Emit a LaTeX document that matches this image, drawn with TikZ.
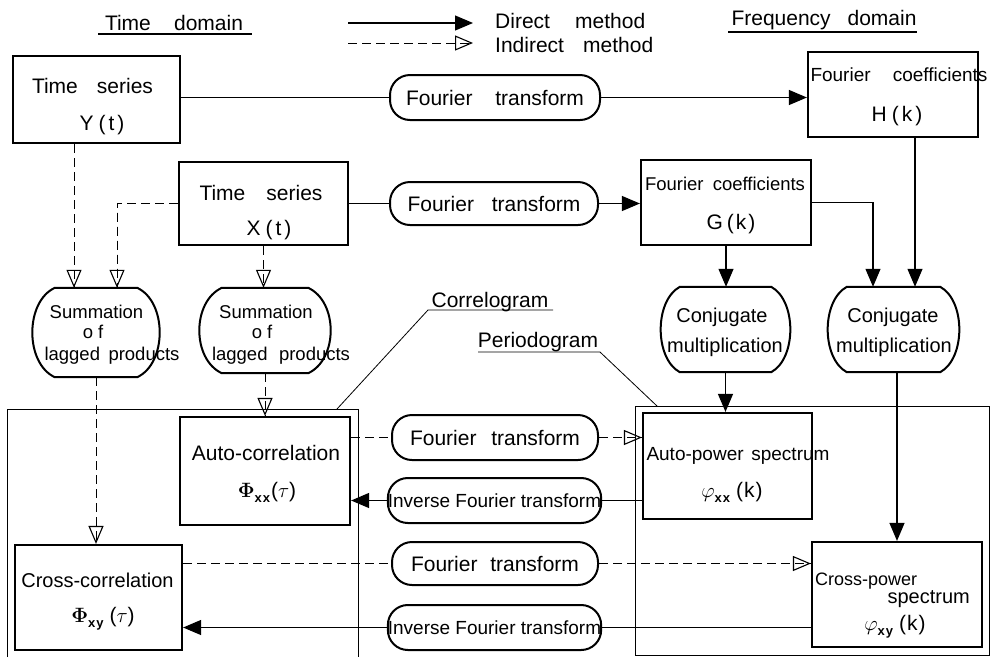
\documentclass[tikz,border=0pt]{standalone}
\usepackage[no-math]{fontspec}
\setmainfont{Liberation Sans}
\usetikzlibrary{arrows.meta,calc}
\newcommand\spreadto[2]{\makebox[#1pt][s]{#2}}
\newcommand\subs[1]{\raisebox{-5pt}{\fontsize{13}{13}\selectfont\bfseries #1}}
\newcommand\barrel[2]{\draw[barline] ($(#1.north west)+(#2,0)$) -- ($(#1.north east)+(-#2,0)$)
  .. controls ($(#1.north east)+(#2/2,14)$) and ($(#1.south east)+(#2/2,-14)$) .. ($(#1.south east)+(-#2,0)$)
  -- ($(#1.south west)+(#2,0)$)
  .. controls ($(#1.south west)+(-#2/2,-14)$) and ($(#1.north west)+(-#2/2,14)$) .. cycle;}
\begin{document}
\begin{tikzpicture}[x=1pt,y=-1pt,
  bx/.style={draw, line width=2.2pt, inner sep=0pt},
  pill/.style={draw, line width=2pt, rounded corners=20pt, inner sep=0pt, minimum width=208pt, minimum height=44pt, font=\fontsize{21}{24}\selectfont},
  barrelbox/.style={inner sep=0pt},
  barline/.style={line width=2pt},
  txt/.style={anchor=base, inner sep=0pt, font=\fontsize{21}{24}\selectfont},
  ln/.style={line width=1.2pt},
  dir/.style={line width=1.2pt, -{Triangle[length=18pt,width=15pt]}},
  dl/.style={line width=1pt, dash pattern=on 9pt off 5pt},
  ind/.style={dl, postaction={draw, -{Triangle[open,length=18pt,width=15pt,line width=1.1pt]}}},
  thin/.style={line width=0.8pt}]
\useasboundingbox (0,0) rectangle (993,657);

% ---------- legend and headings
\coordinate (l1a) at (348,23); \coordinate (l1b) at (473,23);
\coordinate (l2a) at (348,43); \coordinate (l2b) at (473,43);
\draw[dir] (l1a) -- (l1b);
\draw[ind] (l2a) -- (l2b);
\node[txt, anchor=base west] (ldir) at (495,28) {\spreadto{150}{Direct method}};
\node[txt, anchor=base west] (lind) at (495,52) {\spreadto{158}{Indirect method}};
\node[txt] (tdom) at (174,30) {\spreadto{138}{Time domain}};
\coordinate (u1a) at (98,34); \coordinate (u1b) at (252,34);
\draw[ln] (u1a) -- (u1b);
\node[txt] (fdom) at (824,25) {\spreadto{185}{Frequency domain}};
\coordinate (u2a) at (728,32); \coordinate (u2b) at (917,32);
\draw[ln] (u2a) -- (u2b);

% ---------- frames
\coordinate (fa) at (7,657); \coordinate (fb) at (7,409); \coordinate (fc) at (358,409); \coordinate (fd) at (358,657);
\draw[thin] (fa) -- (fb) -- (fc) -- (fd);
\coordinate (ga1) at (635,406); \coordinate (ga2) at (989,655);
\draw[thin] (ga1) rectangle (ga2);

% ---------- boxes
\node[bx, minimum width=167pt, minimum height=87pt] (Y) at (96.5,99.5) {};
\node[txt] (Yt1) at (92.5,93) {\spreadto{121}{Time series}};
\node[txt] (Yt2) at (102,130) {Y\kern5pt(\kern3pt t\kern3pt)};

\node[bx, minimum width=169pt, minimum height=83pt] (X) at (263.5,203.5) {};
\node[txt] (Xt1) at (261,200) {\spreadto{123}{Time series}};
\node[txt] (Xt2) at (269,235) {X\kern5pt(\kern3pt t\kern3pt)};

\node[bx, minimum width=170pt, minimum height=85pt] (H) at (893,94.5) {};
\node[txt, font=\fontsize{19}{22}\selectfont] (Ht1) at (899,81) {\spreadto{177}{Fourier coefficients}};
\node[txt] (Ht2) at (897,121) {H\kern5pt(\kern3pt k\kern3pt)};

\node[bx, minimum width=170pt, minimum height=85pt] (G) at (726,202.5) {};
\node[txt, font=\fontsize{18.5}{22}\selectfont] (Gt1) at (725,190) {\spreadto{160}{Fourier coefficients}};
\node[txt] (Gt2) at (731,229) {G\kern4pt(\kern2pt k\kern2pt)};

\node[bx, minimum width=170pt, minimum height=108pt] (Auto) at (265,471) {};
\node[txt] (At1) at (266,460) {Auto-correlation};
\node[txt] (At2) at (267,497) {$\mathbf{\Phi}$\subs{x\kern1pt x}\kern1pt($\tau$)};

\node[bx, minimum width=167pt, minimum height=105pt] (CC) at (98.5,597.5) {};
\node[txt, font=\fontsize{20}{24}\selectfont] (Ct1) at (97.5,587) {Cross-correlation};
\node[txt] (Ct2) at (103,622) {$\mathbf{\Phi}$\subs{x\kern1pt y}\kern6pt($\tau$)};

\node[bx, minimum width=169pt, minimum height=106pt] (AP) at (727.5,466) {};
\node[txt, font=\fontsize{19}{22}\selectfont] (APt1) at (738,460) {\spreadto{183}{Auto-power spectrum}};
\node[txt] (APt2) at (732,497) {$\varphi$\subs{x\kern1pt x}\kern6pt(\kern1pt k\kern1pt)};

\node[bx, minimum width=170pt, minimum height=105pt] (CP) at (897,594.5) {};
\node[txt, anchor=base west, font=\fontsize{18}{21}\selectfont] (CPt1) at (815,585) {Cross-power};
\node[txt, anchor=base east, font=\fontsize{20}{24}\selectfont] (CPt2) at (970,603) {spectrum};
\node[txt] (CPt3) at (895,630) {$\varphi$\subs{x\kern1pt y}\kern6pt(\kern1pt k\kern1pt)};

% ---------- pills
\node[pill, minimum width=210pt, minimum height=45pt] (P1) at (495,97.5) {\spreadto{178}{Fourier transform}};
\node[pill, minimum height=43pt] (P2) at (494,203.5) {\spreadto{173}{Fourier transform}};
\node[pill, minimum width=206pt, minimum height=45pt] (P3) at (495,437.5) {\spreadto{170}{Fourier transform}};
\node[pill, minimum width=211pt, minimum height=45pt, font=\fontsize{19}{22}\selectfont] (P4) at (494.5,500.5) {Inverse Fourier transform};
\node[pill, minimum width=206pt, minimum height=43pt] (P5) at (495,563.5) {\spreadto{168}{Fourier transform}};
\node[pill, minimum width=211pt, minimum height=45pt, font=\fontsize{19}{22}\selectfont] (P6) at (494.5,627.5) {Inverse Fourier transform};

% ---------- barrels
\node[barrelbox, minimum width=122pt, minimum height=89pt] (S1) at (96,332.5) {};
\barrel{S1}{20}
\node[txt, font=\fontsize{18.5}{22}\selectfont] (S1t1) at (96.5,318) {Summation};
\node[txt, font=\fontsize{18.5}{22}\selectfont] (S1t2) at (93,338) {o\kern5pt f};
\node[txt, font=\fontsize{18.5}{22}\selectfont] (S1t3) at (112,360) {\spreadto{135}{lagged products}};

\node[barrelbox, minimum width=126pt, minimum height=85pt] (S2) at (265,330.5) {};
\barrel{S2}{20}
\node[txt, font=\fontsize{18.5}{22}\selectfont] (S2t1) at (266,318) {Summation};
\node[txt, font=\fontsize{18.5}{22}\selectfont] (S2t2) at (262,338) {o\kern5pt f};
\node[txt, font=\fontsize{18.5}{22}\selectfont] (S2t3) at (281,360) {\spreadto{138}{lagged products}};

\node[barrelbox, minimum width=125pt, minimum height=85pt] (C1) at (725.5,329.5) {};
\barrel{C1}{17}
\node[txt, font=\fontsize{20}{24}\selectfont] (C1t1) at (722,322) {Conjugate};
\node[txt, font=\fontsize{20}{24}\selectfont] (C1t2) at (725,352) {multiplication};

\node[barrelbox, minimum width=127pt, minimum height=85pt] (C2) at (893.5,329.5) {};
\barrel{C2}{17}
\node[txt, font=\fontsize{20}{24}\selectfont] (C2t1) at (893,322) {Conjugate};
\node[txt, font=\fontsize{20}{24}\selectfont] (C2t2) at (894,352) {multiplication};

% ---------- labels of frames
\node[txt] (corr) at (490,307) {Correlogram};
\coordinate (c1) at (428,310); \coordinate (c2) at (553,310); \coordinate (c3) at (337,409);
\draw[thin] (c3) -- (c1) -- (c2);
\node[txt] (peri) at (538,347) {Periodogram};
\coordinate (p1) at (478,352); \coordinate (p2) at (600,352); \coordinate (p3) at (657,406);
\draw[thin] (p1) -- (p2) -- (p3);

% ---------- connectors
\coordinate (xa) at (74,0); \coordinate (xb) at (117,0);
\coordinate (xc) at (873,0); \coordinate (xd) at (915,0);

\draw[ln] (Y.east |- P1.west) -- (P1.west);
\draw[dir] (P1.east) -- (P1.east -| H.west);
\draw[ln] (X.east |- P2.west) -- (P2.west);
\draw[dir] (P2.east) -- (P2.east -| G.west);

\draw[ind] (Y.south -| xa) -- (S1.north -| xa);
\draw[ind] (X.west) -| (S1.north -| xb);
\draw[ind] (X.south) -- (X.south |- S2.north);
\draw[ind] (S2.south) -- (S2.south |- Auto.north);
\draw[ind] (S1.south) -- (S1.south |- CC.north);

\draw[dir] (G.south) -- (G.south |- C1.north);
\draw[dir] (G.east) -| (C2.north -| xc);
\draw[dir] (H.south -| xd) -- (C2.north -| xd);
\draw[dir] (C1.south) -- (C1.south |- AP.north);
\draw[dir] (CP.north |- C2.south) -- (CP.north);

\draw[dl] (Auto.east |- P3.west) -- (P3.west);
\draw[ind] (P3.east) -- (P3.east -| AP.west);
\draw[ln] (AP.west |- P4.east) -- (P4.east);
\draw[dir] (P4.west) -- (P4.west -| Auto.east);
\draw[dl] (CC.east |- P5.west) -- (P5.west);
\draw[ind] (P5.east) -- (P5.east -| CP.west);
\draw[ln] (CP.west |- P6.east) -- (P6.east);
\draw[dir] (P6.west) -- (P6.west -| CC.east);
\end{tikzpicture}
\end{document}
